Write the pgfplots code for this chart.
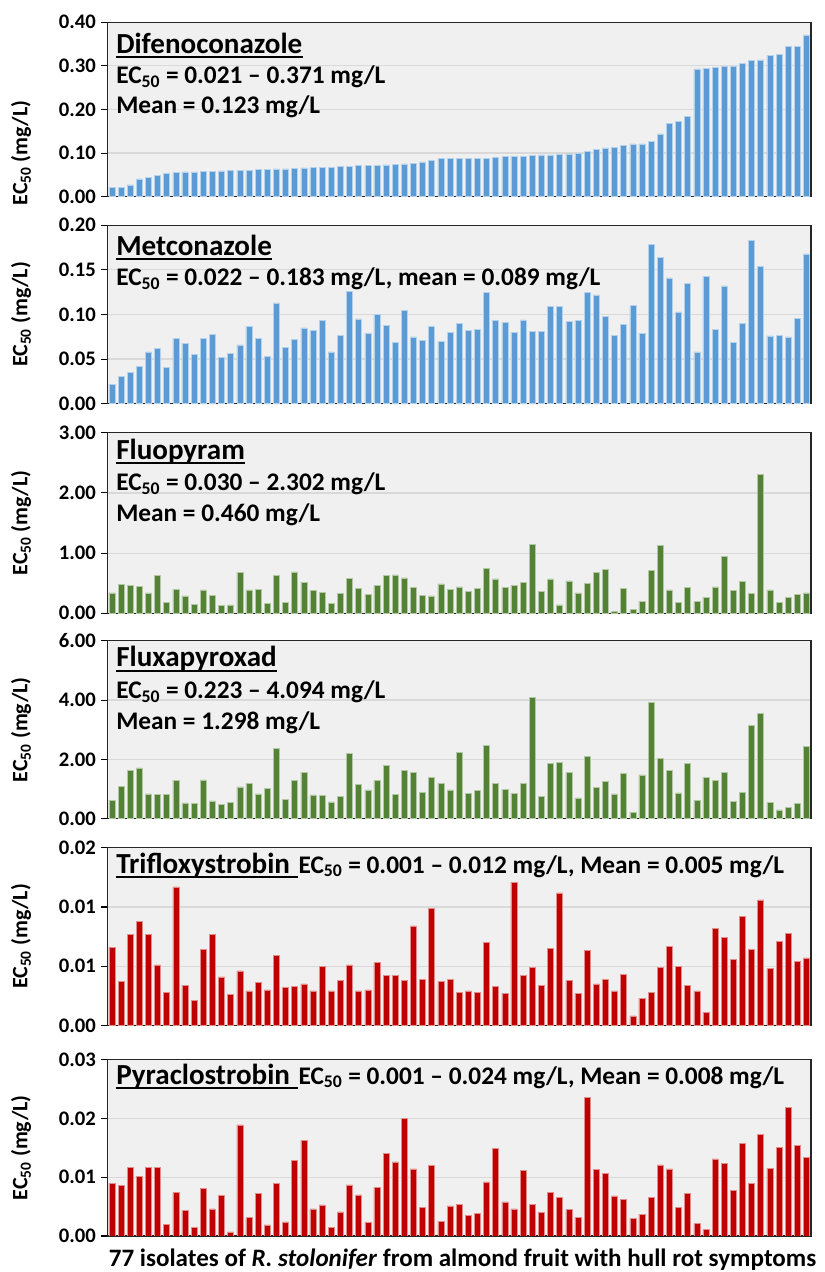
\documentclass[border=0pt]{standalone}
\usepackage{fontspec}
\setmainfont{Carlito}
\usepackage{pgfplots}
\usepackage{pgfplotstable}
\pgfplotsset{compat=1.18}
\definecolor{bblue}{RGB}{91,155,213}
\definecolor{bgreen}{RGB}{84,130,53}
\definecolor{bred}{RGB}{192,0,0}
\definecolor{bgc}{RGB}{240,240,240}
\definecolor{gridc}{RGB}{217,217,217}

\pgfplotstableread{
i d m fp fx t p
1 0.021 0.022 0.34 0.63 0.0066 0.0090
2 0.022 0.031 0.48 1.08 0.0037 0.0086
3 0.027 0.035 0.47 1.63 0.0077 0.0116
4 0.041 0.042 0.45 1.71 0.0088 0.0101
5 0.045 0.058 0.34 0.84 0.0077 0.0117
6 0.049 0.062 0.63 0.81 0.0051 0.0116
7 0.053 0.041 0.18 0.82 0.0028 0.0020
8 0.055 0.073 0.40 1.30 0.0117 0.0074
9 0.057 0.068 0.29 0.53 0.0034 0.0043
10 0.057 0.055 0.15 0.52 0.0021 0.0014
11 0.058 0.073 0.39 1.31 0.0064 0.0081
12 0.058 0.078 0.30 0.60 0.0077 0.0046
13 0.059 0.052 0.13 0.49 0.0041 0.0069
14 0.060 0.056 0.14 0.55 0.0026 0.0007
15 0.061 0.066 0.68 1.07 0.0046 0.0189
16 0.061 0.087 0.39 1.19 0.0029 0.0031
17 0.062 0.073 0.40 0.84 0.0036 0.0073
18 0.063 0.053 0.17 1.03 0.0030 0.0019
19 0.064 0.113 0.63 2.38 0.0059 0.0089
20 0.064 0.063 0.18 0.66 0.0032 0.0024
21 0.065 0.072 0.69 1.29 0.0033 0.0129
22 0.066 0.085 0.52 1.57 0.0035 0.0163
23 0.067 0.082 0.38 0.80 0.0029 0.0046
24 0.067 0.093 0.35 0.78 0.0050 0.0053
25 0.068 0.058 0.16 0.57 0.0029 0.0015
26 0.069 0.077 0.33 0.75 0.0038 0.0041
27 0.070 0.126 0.58 2.20 0.0051 0.0087
28 0.071 0.095 0.41 1.15 0.0029 0.0070
29 0.072 0.079 0.31 0.97 0.0030 0.0023
30 0.072 0.100 0.47 1.29 0.0053 0.0083
31 0.073 0.088 0.63 1.80 0.0042 0.0141
32 0.074 0.069 0.64 0.83 0.0042 0.0126
33 0.075 0.105 0.59 1.62 0.0038 0.0200
34 0.076 0.075 0.43 1.56 0.0084 0.0114
35 0.080 0.071 0.30 0.88 0.0039 0.0048
36 0.084 0.087 0.29 1.39 0.0099 0.0120
37 0.087 0.070 0.49 1.19 0.0037 0.0025
38 0.087 0.080 0.40 0.97 0.0039 0.0051
39 0.087 0.090 0.44 2.24 0.0028 0.0054
40 0.087 0.082 0.37 0.85 0.0029 0.0035
41 0.088 0.083 0.42 0.96 0.0028 0.0039
42 0.088 0.125 0.75 2.48 0.0070 0.0092
43 0.091 0.093 0.57 1.18 0.0033 0.0149
44 0.092 0.091 0.43 1.00 0.0027 0.0058
45 0.093 0.080 0.47 0.85 0.0121 0.0046
46 0.093 0.094 0.52 1.20 0.0042 0.0112
47 0.094 0.081 1.15 4.094 0.0049 0.0054
48 0.096 0.081 0.37 0.75 0.0034 0.0040
49 0.096 0.109 0.57 1.87 0.0065 0.0074
50 0.097 0.109 0.14 1.91 0.0112 0.0066
51 0.098 0.092 0.54 1.55 0.0038 0.0045
52 0.099 0.093 0.34 0.70 0.0027 0.0032
53 0.104 0.125 0.50 2.11 0.0063 0.0236
54 0.109 0.122 0.68 1.06 0.0035 0.0113
55 0.112 0.098 0.73 1.26 0.0039 0.0107
56 0.113 0.077 0.030 0.84 0.0029 0.0068
57 0.118 0.089 0.42 1.54 0.0043 0.0062
58 0.121 0.110 0.06 0.223 0.0008 0.0030
59 0.121 0.079 0.20 1.48 0.0023 0.0037
60 0.127 0.179 0.71 3.93 0.0028 0.0066
61 0.144 0.164 1.13 2.03 0.0049 0.0121
62 0.169 0.141 0.39 1.62 0.0067 0.0114
63 0.172 0.103 0.18 0.87 0.0050 0.0049
64 0.185 0.135 0.43 1.87 0.0034 0.0073
65 0.293 0.058 0.20 0.63 0.0029 0.0021
66 0.295 0.143 0.27 1.39 0.0011 0.0011
67 0.296 0.083 0.44 1.30 0.0082 0.0131
68 0.298 0.132 0.95 1.57 0.0074 0.0123
69 0.299 0.069 0.38 0.58 0.0056 0.0077
70 0.305 0.090 0.53 0.89 0.0092 0.0157
71 0.312 0.183 0.33 3.15 0.0064 0.0089
72 0.314 0.154 2.302 3.56 0.0106 0.0173
73 0.324 0.076 0.39 0.56 0.0048 0.0115
74 0.327 0.077 0.18 0.30 0.0071 0.0151
75 0.344 0.075 0.26 0.39 0.0078 0.0219
76 0.345 0.096 0.32 0.51 0.0054 0.0154
77 0.371 0.168 0.34 2.43 0.0057 0.0133
}\data

\pgfplotsset{
  panel/.style={
    ybar, scale only axis, width=527.8pt,
    xmin=0.5, xmax=77.5, ymin=0,
    xtick=\empty,
    ytick pos=left,
    scaled y ticks=false,
    tick align=outside,
    major tick length=5pt,
    tick style={black, line width=0.8pt},
    ymajorgrids, grid style={gridc, line width=0.9pt},
    axis background/.style={fill=bgc},
    axis line style={black!85, line width=1pt},
    yticklabel style={font=\fontsize{15.5}{18}\selectfont\bfseries},
    bar width=4.5pt,
    anchor=south west,
  },
}
\newcommand{\nm}{\fontsize{21.8}{25}\selectfont\bfseries}
\newcommand{\ec}{\fontsize{19}{22}\selectfont\bfseries}
\newcommand{\ECf}{EC\textsubscript{50}}

\begin{document}
\begin{tikzpicture}
\path[use as bounding box] (0,0) rectangle (618.75pt,954pt);

\begin{axis}[panel, at={(80.475pt,806.475pt)}, height=130.8pt, ymax=0.40,
  ytick={0,0.1,0.2,0.3,0.4}, yticklabels={0.00,0.10,0.20,0.30,0.40}]
\addplot[fill=bblue, draw=bblue!45!white, line width=0.4pt] table[x=i,y=d]{\data};
\end{axis}

\begin{axis}[panel, at={(80.475pt,651.225pt)}, height=133.8pt, ymax=0.20,
  ytick={0,0.05,0.1,0.15,0.2}, yticklabels={0.00,0.05,0.10,0.15,0.20}]
\addplot[fill=bblue, draw=bblue!45!white, line width=0.4pt] table[x=i,y=m]{\data};
\end{axis}

\begin{axis}[panel, at={(80.475pt,494.025pt)}, height=135.4pt, ymax=3,
  ytick={0,1,2,3}, yticklabels={0.00,1.00,2.00,3.00}]
\addplot[fill=bgreen, draw=bgreen!45!white, line width=0.4pt] table[x=i,y=fp]{\data};
\end{axis}

\begin{axis}[panel, at={(80.475pt,339.975pt)}, height=133.5pt, ymax=6,
  ytick={0,2,4,6}, yticklabels={0.00,2.00,4.00,6.00}]
\addplot[fill=bgreen, draw=bgreen!45!white, line width=0.4pt] table[x=i,y=fx]{\data};
\end{axis}

\begin{axis}[panel, at={(80.475pt,185.025pt)}, height=133.1pt, ymax=0.015,
  ytick={0,0.005,0.01,0.015}, yticklabels={0.00,0.01,0.01,0.02}]
\addplot[fill=bred, draw=bred!45!white, line width=0.4pt] table[x=i,y=t]{\data};
\end{axis}

\begin{axis}[panel, at={(80.475pt,27pt)}, height=132.4pt, ymax=0.03,
  ytick={0,0.01,0.02,0.03}, yticklabels={0.00,0.01,0.02,0.03}]
\addplot[fill=bred, draw=bred!45!white, line width=0.4pt] table[x=i,y=p]{\data};
\end{axis}

\begin{scope}[x=0.75pt, y=-0.75pt, yshift=954pt, every node/.style={inner sep=0pt}]
  % panel 1
  \node[anchor=base west] (n1) at (116,53.3) {\nm Difenoconazole};
  \draw[line width=1.3pt] ([yshift=-3pt]n1.base west) -- ([yshift=-3pt]n1.base east);
  \node[anchor=base west] at (116,84) {\ec \ECf\ = 0.021 – 0.371 mg/L};
  \node[anchor=base west] at (116,114) {\ec Mean = 0.123 mg/L};
  % panel 2
  \node[anchor=base west] (n2) at (116,255.3) {\nm Metconazole};
  \draw[line width=1.3pt] ([yshift=-3pt]n2.base west) -- ([yshift=-3pt]n2.base east);
  \node[anchor=base west] at (116,286) {\ec \ECf\ = 0.022 – 0.183 mg/L, mean = 0.089 mg/L};
  % panel 3
  \node[anchor=base west] (n3) at (116,459.3) {\nm Fluopyram};
  \draw[line width=1.3pt] ([yshift=-3pt]n3.base west) -- ([yshift=-3pt]n3.base east);
  \node[anchor=base west] at (116,491) {\ec \ECf\ = 0.030 – 2.302 mg/L};
  \node[anchor=base west] at (116,521.7) {\ec Mean = 0.460 mg/L};
  % panel 4
  \node[anchor=base west] (n4) at (116,667) {\nm Fluxapyroxad};
  \draw[line width=1.3pt] ([yshift=-3pt]n4.base west) -- ([yshift=-3pt]n4.base east);
  \node[anchor=base west] at (116,698.7) {\ec \ECf\ = 0.223 – 4.094 mg/L};
  \node[anchor=base west] at (116,729.7) {\ec Mean = 1.298 mg/L};
  % panel 5
  \node[anchor=base west] (n5) at (116,873.3) {\nm Trifloxystrobin};
  \draw[line width=1.3pt] ([yshift=-3pt]n5.base west) -- ([yshift=-3pt,xshift=5.5pt]n5.base east);
  \node[anchor=base west] at ([xshift=6pt]n5.base east) {\ec \ECf\ = 0.001 – 0.012 mg/L, Mean = 0.005 mg/L};
  % panel 6
  \node[anchor=base west] (n6) at (116,1084.3) {\nm Pyraclostrobin};
  \draw[line width=1.3pt] ([yshift=-3pt]n6.base west) -- ([yshift=-3pt,xshift=5.5pt]n6.base east);
  \node[anchor=base west] at ([xshift=6pt]n6.base east) {\ec \ECf\ = 0.001 – 0.024 mg/L, Mean = 0.008 mg/L};
  % y labels
  \foreach \yy in {153,314.5,523,729.7,936.5,1147.7}
    \node[rotate=90, anchor=center] at (21,\yy) {\fontsize{16.5}{19}\selectfont\bfseries \ECf\ (mg/L)};
  % bottom label
  \node[anchor=base] at (462.5,1266) {\fontsize{18.8}{22}\selectfont\bfseries 77 isolates of \textit{R. stolonifer} from almond fruit with hull rot symptoms};
\end{scope}
\end{tikzpicture}
\end{document}
